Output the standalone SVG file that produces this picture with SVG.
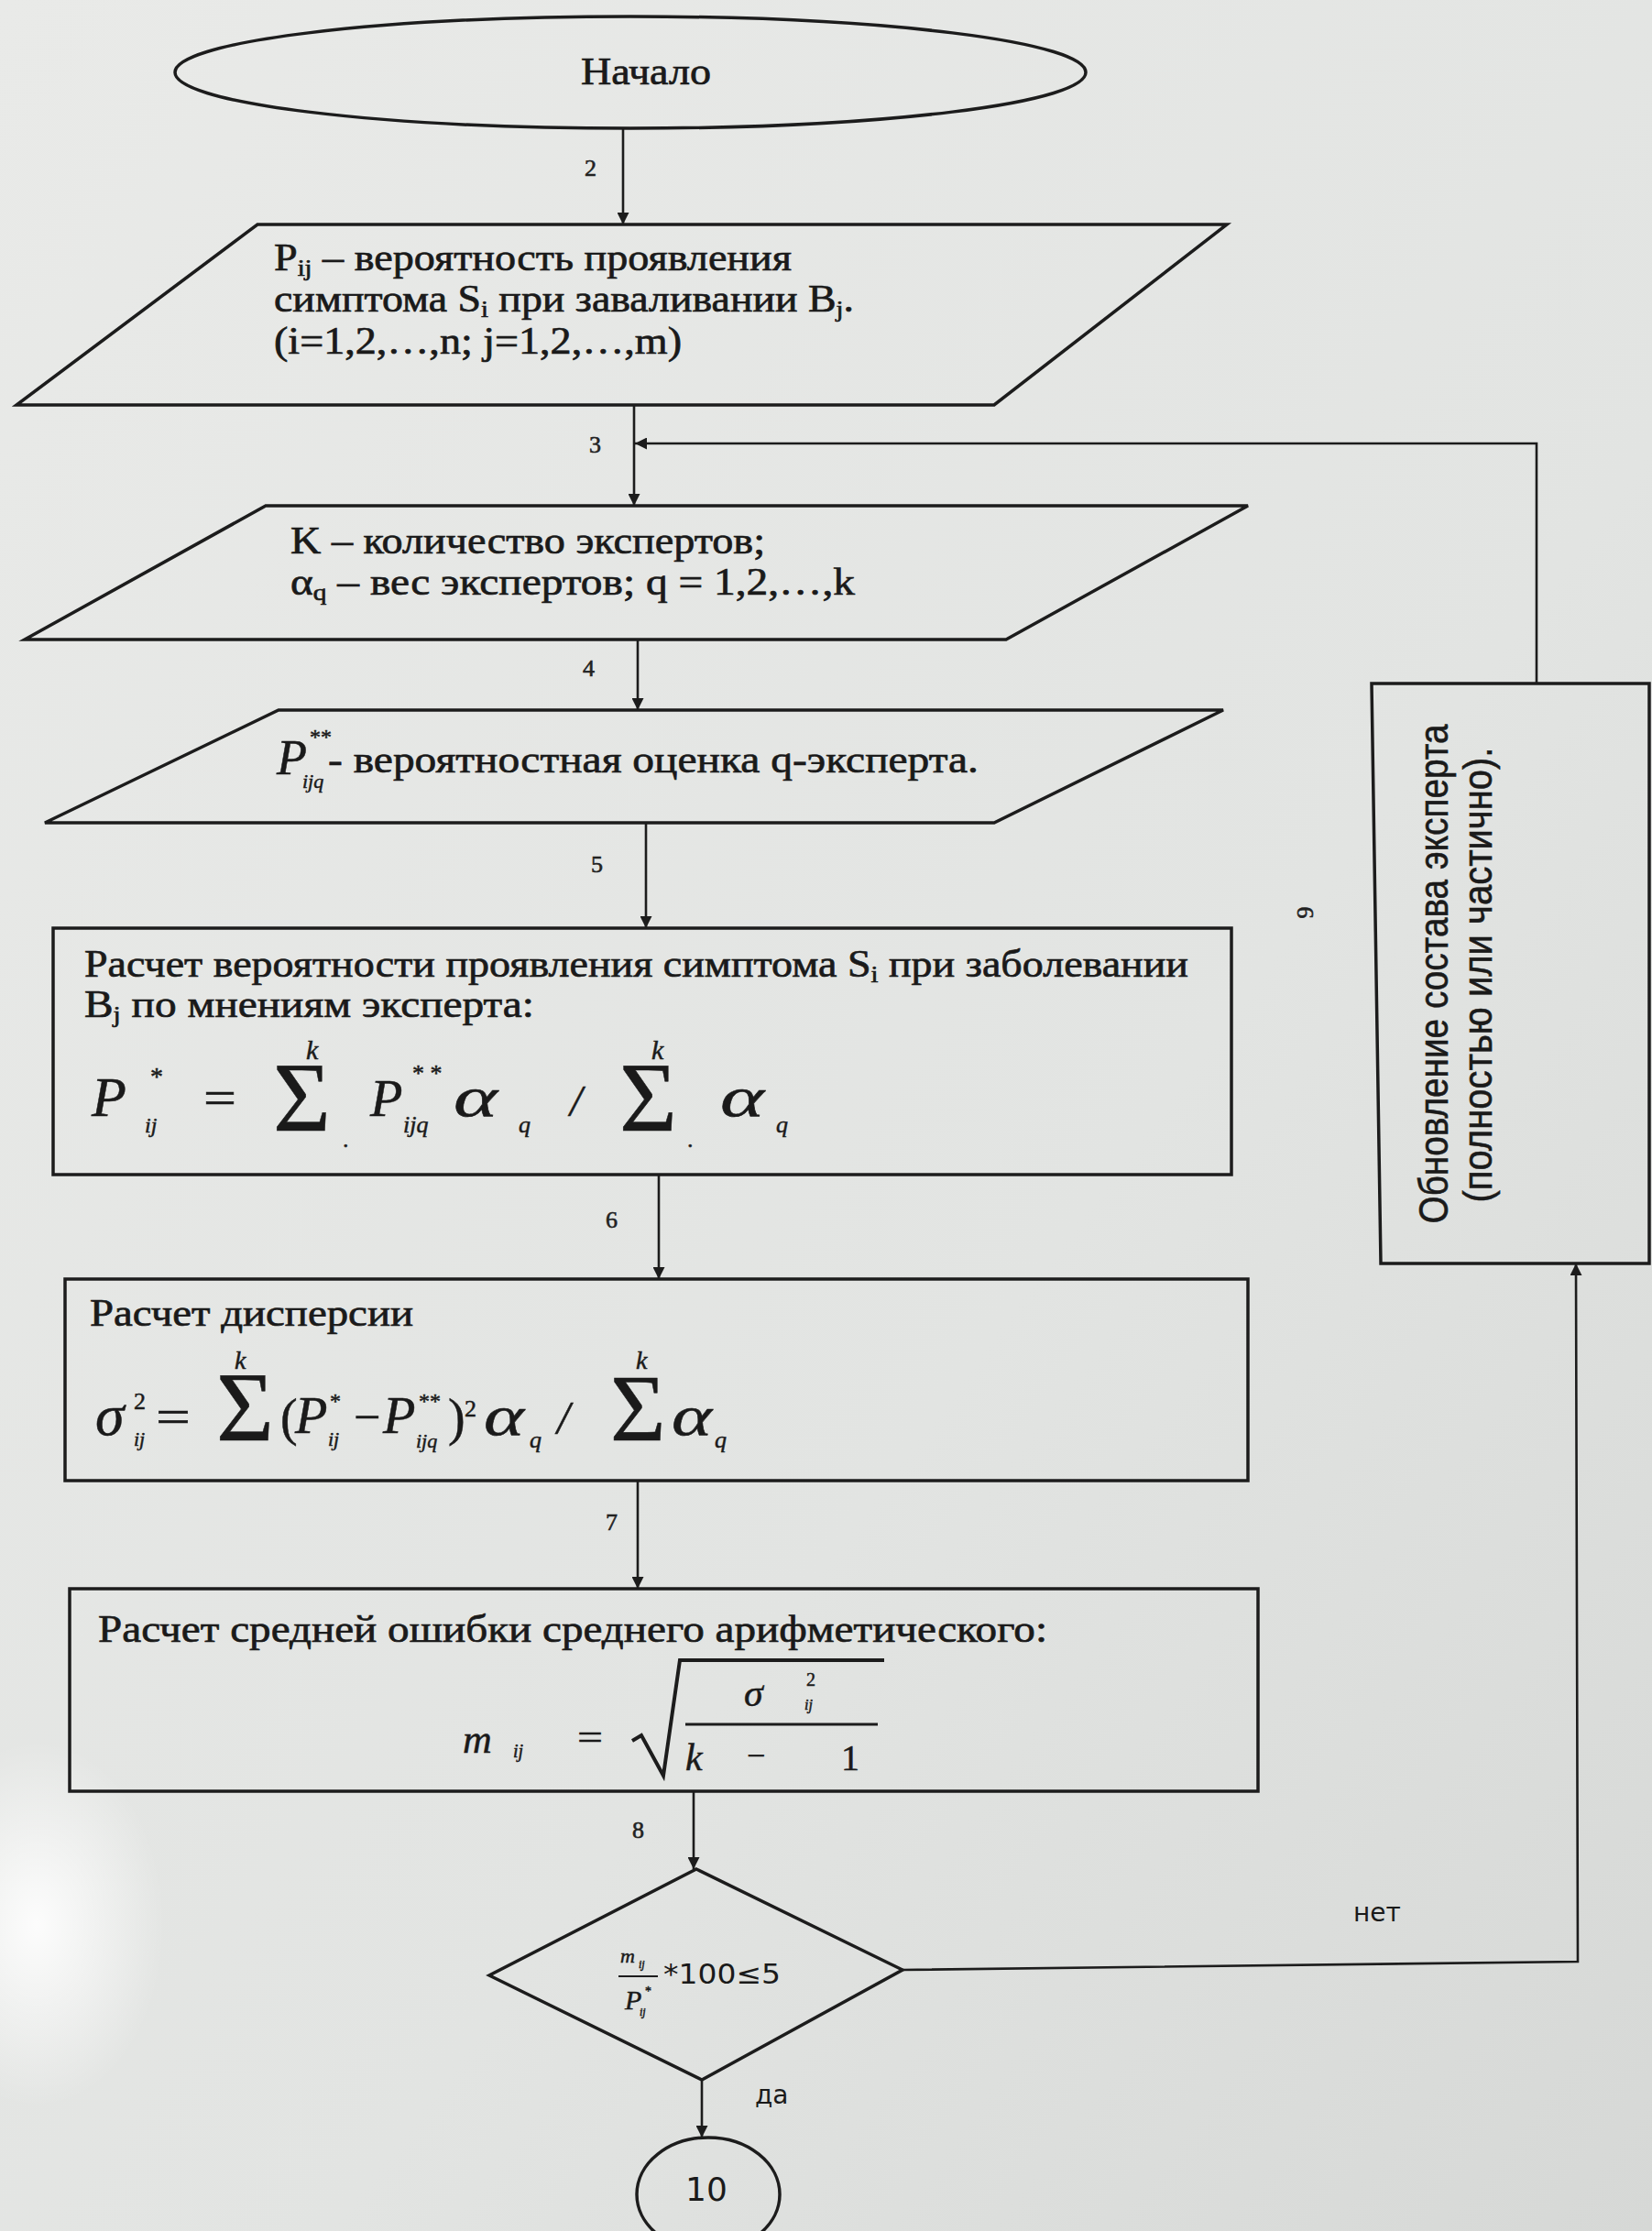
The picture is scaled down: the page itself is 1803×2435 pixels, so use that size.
<svg xmlns="http://www.w3.org/2000/svg" width="1803" height="2435" viewBox="0 0 1803 2435">
<style>
.bg{fill:url(#bgg)}
.shape{fill:none;stroke:#1c1c1c;stroke-width:3.5}
.con{fill:none;stroke:#1c1c1c;stroke-width:2.6}
.t{font-family:"Liberation Serif","Times New Roman",serif;font-size:42px;fill:#1a1a1a;stroke:#1a1a1a;stroke-width:0.7}
.m{font-family:"Liberation Serif","Times New Roman",serif;font-style:italic;fill:#1a1a1a;stroke:#1a1a1a;stroke-width:0.5}
.u{font-family:"Liberation Serif","Times New Roman",serif;fill:#1a1a1a;stroke:#1a1a1a;stroke-width:0.5}
.n{font-style:normal}
.i{font-style:italic}
.lbl{font-family:"Liberation Serif","Times New Roman",serif;font-size:26px;fill:#222;stroke:#222;stroke-width:0.6}
.s{font-family:"DejaVu Sans","Liberation Sans",sans-serif;fill:#1a1a1a}
.side{font-family:"Liberation Sans",Arial,sans-serif;font-size:45px;fill:#1a1a1a;stroke:#1a1a1a;stroke-width:0.6}
</style>
<defs>
<linearGradient id="bgg" x1="0" y1="0" x2="1" y2="1">
<stop offset="0" stop-color="#e9eae8"/>
<stop offset="0.6" stop-color="#e2e4e2"/>
<stop offset="1" stop-color="#d6d8d6"/>
</linearGradient>
<radialGradient id="glow" cx="0.5" cy="0.5" r="0.5">
<stop offset="0" stop-color="#ffffff" stop-opacity="0.9"/>
<stop offset="1" stop-color="#ffffff" stop-opacity="0"/>
</radialGradient>
<marker id="ah" viewBox="0 0 10 10" refX="10" refY="5" markerWidth="5" markerHeight="5" orient="auto" markerUnits="strokeWidth">
<path d="M0,0 L10,5 L0,10 z" fill="#1c1c1c"/>
</marker>
</defs>
<rect class="bg" x="0" y="0" width="1803" height="2435"/>
<ellipse cx="40" cy="2100" rx="140" ry="200" fill="url(#glow)"/>

<g id="connectors">
<line class="con" x1="680" y1="140" x2="680" y2="245" marker-end="url(#ah)"/>
<line class="con" x1="692" y1="442" x2="692" y2="552" marker-end="url(#ah)"/>
<line class="con" x1="696" y1="698" x2="696" y2="775" marker-end="url(#ah)"/>
<line class="con" x1="705" y1="898" x2="705" y2="1013" marker-end="url(#ah)"/>
<line class="con" x1="719" y1="1282" x2="719" y2="1396" marker-end="url(#ah)"/>
<line class="con" x1="696" y1="1616" x2="696" y2="1734" marker-end="url(#ah)"/>
<line class="con" x1="757" y1="1955" x2="757" y2="2040" marker-end="url(#ah)"/>
<line class="con" x1="766" y1="2270" x2="766" y2="2333" marker-end="url(#ah)"/>
<polyline class="con" points="985,2150 1722,2141 1720,1379" marker-end="url(#ah)"/>
<polyline class="con" points="1677,746 1677,484 693,484" marker-end="url(#ah)"/>
<text class="lbl" x="638" y="192">2</text>
<text class="lbl" x="643" y="494">3</text>
<text class="lbl" x="636" y="738">4</text>
<text class="lbl" x="645" y="952">5</text>
<text class="lbl" x="661" y="1340">6</text>
<text class="lbl" x="661" y="1670">7</text>
<text class="lbl" x="690" y="2006">8</text>
<text class="lbl" x="1433" y="996" transform="rotate(-90 1433 996)" text-anchor="middle" font-size="30">9</text>
<text class="s" x="1477" y="2097" font-size="28">нет</text>
<text class="s" x="824" y="2296" font-size="28">да</text>
</g>

<g id="start">
<ellipse class="shape" cx="688" cy="79" rx="497" ry="61"/>
<text class="t" x="705" y="92" text-anchor="middle" font-size="40" textLength="142" lengthAdjust="spacingAndGlyphs">Начало</text>
</g>

<g id="input1">
<polygon class="shape" points="281,245 1339,245 1085,442 18,442"/>
<text class="t" x="299" y="295" textLength="565" lengthAdjust="spacingAndGlyphs">P<tspan font-size="26" dy="6">ij</tspan><tspan dy="-6"> – вероятность проявления</tspan></text>
<text class="t" x="299" y="340" textLength="633" lengthAdjust="spacingAndGlyphs">симптома S<tspan font-size="26" dy="6">i</tspan><tspan dy="-6">  при заваливании B</tspan><tspan font-size="26" dy="6">j</tspan><tspan dy="-6">.</tspan></text>
<text class="t" x="299" y="386" textLength="445" lengthAdjust="spacingAndGlyphs">(i=1,2,…,n; j=1,2,…,m)</text>
</g>

<g id="input2">
<polygon class="shape" points="290,552 1362,552 1098,698 27,698"/>
<text class="t" x="317" y="604" textLength="518" lengthAdjust="spacingAndGlyphs">K – количество экспертов;</text>
<text class="t" x="317" y="649" textLength="616" lengthAdjust="spacingAndGlyphs">α<tspan font-size="26" dy="6">q</tspan><tspan dy="-6"> – вес экспертов;  q = 1,2,…,k</tspan></text>
</g>

<g id="input3">
<polygon class="shape" points="304,775 1335,775 1085,898 49,898"/>
<text class="m" x="302" y="845" font-size="54">P<tspan class="n" x="338" y="812" font-size="24">**</tspan><tspan x="330" y="860" font-size="22">ijq</tspan></text>
<text class="t" x="358" y="843" textLength="710" lengthAdjust="spacingAndGlyphs">- вероятностная оценка q-эксперта.</text>
</g>

<g id="calc1">
<rect class="shape" x="58" y="1013" width="1286" height="269"/>
<text class="t" x="92" y="1066" textLength="1205" lengthAdjust="spacingAndGlyphs">Расчет вероятности проявления симптома S<tspan font-size="26" dy="6">i</tspan><tspan dy="-6"> при заболевании</tspan></text>
<text class="t" x="92" y="1110" textLength="491" lengthAdjust="spacingAndGlyphs">B<tspan font-size="26" dy="6">j</tspan><tspan dy="-6"> по мнениям эксперта:</tspan></text>
<text class="m" x="100" y="1218" font-size="62">P<tspan class="n" x="164" y="1184" font-size="28">*</tspan><tspan x="158" y="1236" font-size="24">ij</tspan></text>
<text class="u" x="222" y="1216" font-size="52" textLength="36" lengthAdjust="spacingAndGlyphs">=</text>
<text class="u" x="298" y="1234" font-size="108">Σ<tspan class="i" x="334" y="1156" font-size="30">k</tspan><tspan x="374" y="1252" font-size="26">.</tspan></text>
<text class="m" x="404" y="1218" font-size="58">P<tspan class="n" x="450" y="1180" font-size="26">* *</tspan><tspan x="440" y="1236" font-size="26">ijq</tspan></text>
<text class="m" x="495" y="1218" font-size="62" textLength="48" lengthAdjust="spacingAndGlyphs">α</text>
<text class="m" x="566" y="1236" font-size="26">q</text>
<text class="m" x="622" y="1218" font-size="48">/</text>
<text class="u" x="676" y="1234" font-size="108">Σ<tspan class="i" x="711" y="1156" font-size="30">k</tspan><tspan x="750" y="1252" font-size="26">.</tspan></text>
<text class="m" x="786" y="1218" font-size="62" textLength="48" lengthAdjust="spacingAndGlyphs">α</text>
<text class="m" x="847" y="1236" font-size="26">q</text>
</g>

<g id="calc2">
<rect class="shape" x="71" y="1396" width="1291" height="220"/>
<text class="t" x="98" y="1447" textLength="353" lengthAdjust="spacingAndGlyphs">Расчет дисперсии</text>
<text class="m" x="104" y="1566" font-size="64">σ<tspan class="n" x="146" y="1538" font-size="26">2</tspan><tspan x="146" y="1578" font-size="22">ij</tspan></text>
<text class="u" x="170" y="1564" font-size="52" textLength="38" lengthAdjust="spacingAndGlyphs">=</text>
<text class="u" x="236" y="1572" font-size="108">Σ<tspan class="i" x="256" y="1494" font-size="28">k</tspan></text>
<text class="u" x="306" y="1566" font-size="56">(</text>
<text class="m" x="322" y="1564" font-size="58">P<tspan class="n" x="360" y="1537" font-size="24">*</tspan><tspan x="358" y="1578" font-size="22">ij</tspan></text>
<text class="u" x="386" y="1564" font-size="52">−</text>
<text class="m" x="418" y="1564" font-size="58">P<tspan class="n" x="457" y="1537" font-size="24">**</tspan><tspan x="454" y="1580" font-size="22">ijq</tspan></text>
<text class="u" x="489" y="1566" font-size="56">)<tspan x="507" y="1546" font-size="26">2</tspan></text>
<text class="m" x="528" y="1566" font-size="62" textLength="44" lengthAdjust="spacingAndGlyphs">α</text>
<text class="m" x="578" y="1580" font-size="26">q</text>
<text class="m" x="608" y="1564" font-size="50">/</text>
<text class="u" x="666" y="1572" font-size="104">Σ<tspan class="i" x="694" y="1494" font-size="28">k</tspan></text>
<text class="m" x="733" y="1566" font-size="62" textLength="44" lengthAdjust="spacingAndGlyphs">α</text>
<text class="m" x="780" y="1580" font-size="26">q</text>
</g>

<g id="calc3">
<rect class="shape" x="76" y="1734" width="1297" height="221"/>
<text class="t" x="107" y="1792" textLength="1036" lengthAdjust="spacingAndGlyphs">Расчет средней ошибки среднего арифметического:</text>
<text class="m" x="505" y="1913" font-size="44">m<tspan x="560" y="1918" font-size="20">ij</tspan></text>
<text class="u" x="630" y="1910" font-size="40" textLength="28" lengthAdjust="spacingAndGlyphs">=</text>
<path d="M690,1900 L700,1894 L724,1938 L742,1812 L965,1812" fill="none" stroke="#1c1c1c" stroke-width="4"/>
<line x1="748" y1="1882" x2="958" y2="1882" stroke="#1c1c1c" stroke-width="3"/>
<text class="m" x="812" y="1862" font-size="42">σ<tspan class="n" x="880" y="1840" font-size="20">2</tspan><tspan x="878" y="1866" font-size="16">ij</tspan></text>
<text class="m" x="748" y="1932" font-size="42">k</text>
<text class="u" x="815" y="1928" font-size="36">−</text>
<text class="u" x="918" y="1932" font-size="40">1</text>
</g>

<g id="decision">
<polygon class="shape" points="760,2040 985,2150 766,2270 534,2156"/>
<text class="m" x="677" y="2142" font-size="22">m<tspan x="697" y="2148" font-size="12">ij</tspan></text>
<line x1="675" y1="2157" x2="718" y2="2157" stroke="#1c1c1c" stroke-width="2"/>
<text class="m" x="682" y="2193" font-size="30">P<tspan class="n" x="704" y="2178" font-size="14">*</tspan><tspan x="698" y="2200" font-size="12">ij</tspan></text>
<text class="s" x="724" y="2165" font-size="30" textLength="128" lengthAdjust="spacingAndGlyphs">*100≤5</text>
</g>

<g id="update">
<polygon class="shape" points="1497,746 1800,746 1800,1379 1507,1379"/>
<text class="side" x="1580" y="1063" text-anchor="middle" transform="rotate(-90 1580 1063)" textLength="545" lengthAdjust="spacingAndGlyphs">Обновление состава эксперта</text>
<text class="side" x="1628" y="1064" text-anchor="middle" transform="rotate(-90 1628 1064)" textLength="497" lengthAdjust="spacingAndGlyphs">(полностью или частично).</text>
</g>

<g id="connector10">
<ellipse class="shape" cx="773" cy="2395" rx="78" ry="62"/>
<text class="s" x="771" y="2402" font-size="36" text-anchor="middle">10</text>
</g>
</svg>
